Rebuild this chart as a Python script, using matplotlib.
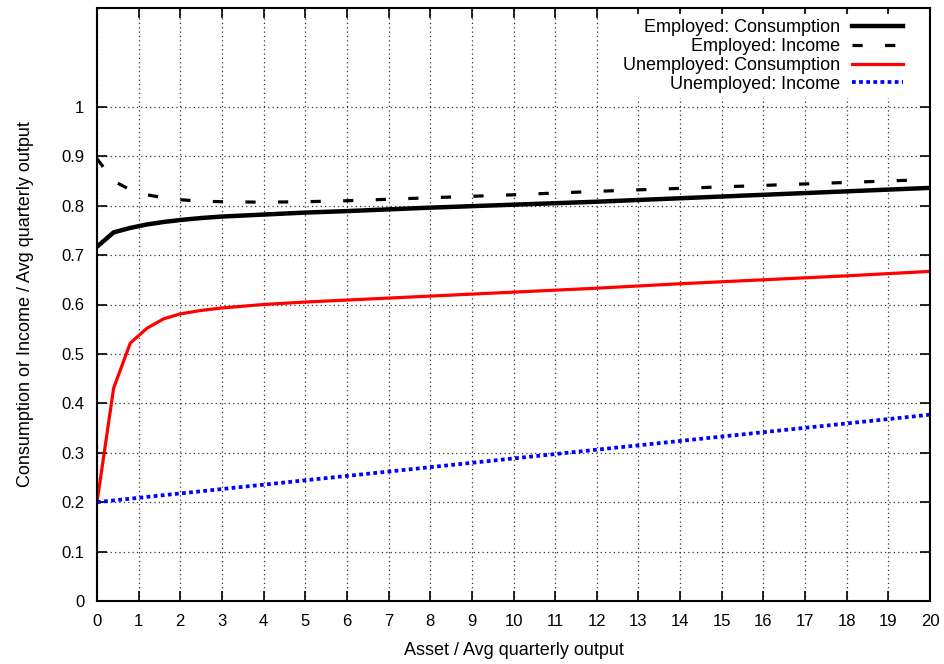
import matplotlib
matplotlib.use("Agg")
import matplotlib.pyplot as plt

plt.rcParams['font.family'] = ['Liberation Sans', 'DejaVu Sans']

asset = [0, 0.4, 0.8, 1.2, 1.6, 2, 2.5, 3, 4, 5, 6, 8, 10, 12, 14, 16, 18, 20]
emp_cons = [0.717, 0.746, 0.755, 0.762, 0.767, 0.771, 0.775, 0.778, 0.782, 0.786,
            0.789, 0.796, 0.802, 0.808, 0.815, 0.822, 0.829, 0.836]
emp_inc = [0.895, 0.850, 0.832, 0.822, 0.816, 0.812, 0.809, 0.808, 0.807, 0.808,
           0.810, 0.816, 0.822, 0.829, 0.835, 0.841, 0.847, 0.853]
unemp_cons = [0.200, 0.431, 0.522, 0.552, 0.571, 0.581, 0.588, 0.593, 0.600, 0.605,
              0.609, 0.617, 0.625, 0.633, 0.642, 0.650, 0.658, 0.667]
unemp_inc = [0.200, 0.2035, 0.207, 0.2106, 0.2142, 0.2177, 0.2221, 0.2266, 0.2354, 0.2443,
             0.2531, 0.2708, 0.2885, 0.3062, 0.3239, 0.3416, 0.3593, 0.377]

labels = ["Employed: Consumption", "Employed: Income",
          "Unemployed: Consumption", "Unemployed: Income"]
xticks = list(range(0, 21))
yticks = [0, 0.1, 0.2, 0.3, 0.4, 0.5, 0.6, 0.7, 0.8, 0.9, 1]
ytick_labels = ["0", "0.1", "0.2", "0.3", "0.4", "0.5", "0.6", "0.7", "0.8", "0.9", "1"]

fig = plt.figure(figsize=(9.45, 6.64), dpi=100)
ax = fig.add_axes([97/945, 63/664, 833/945, 593/664])

ax.plot(asset, emp_cons, color='black', lw=3.2, label=labels[0], solid_joinstyle='miter')
ax.plot(asset, emp_inc, color='black', lw=2.3, dashes=(3.2, 7), label=labels[1])
ax.plot(asset, unemp_cons, color='#ff0000', lw=2.3, label=labels[2])
ax.plot(asset, unemp_inc, color='#0000ff', lw=2.7, dashes=(1.0, 0.9),
        dash_capstyle='butt', label=labels[3])

ax.set_xlim(0, 20)
ax.set_ylim(0, 1.2)
ax.set_xticks(xticks)
ax.set_xticklabels([str(t) for t in xticks])
ax.set_yticks(yticks)
ax.set_yticklabels(ytick_labels)
ax.tick_params(direction='in', length=7, width=1.2, top=True, right=True,
               labelsize=12, pad=9, colors='black')
ax.grid(True, color='#333333', lw=0.9, linestyle=(0, (1, 2.5)))
ax.set_axisbelow(True)
for s in ax.spines.values():
    s.set_linewidth(1.5)

ax.set_xlabel("Asset / Avg quarterly output", fontsize=13, labelpad=10)
ax.set_ylabel("Consumption or Income / Avg quarterly output", fontsize=13, labelpad=20)

leg = ax.legend(loc='upper right', bbox_to_anchor=(0.974, 0.99), borderaxespad=0,
                borderpad=0.3, markerfirst=False, handlelength=2.8, handletextpad=0.7,
                labelspacing=0.1, fontsize=13, frameon=True, facecolor='white',
                edgecolor='none', framealpha=1.0, fancybox=False)

fig.savefig("out.png", dpi=100)
